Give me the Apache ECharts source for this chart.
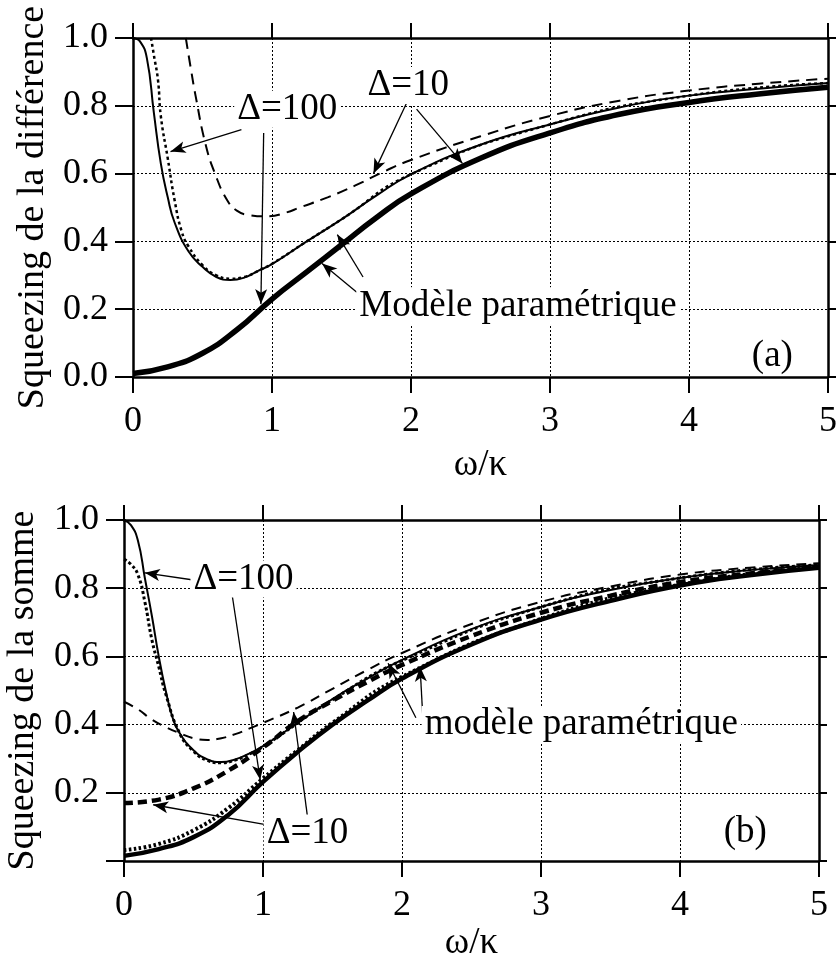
<!DOCTYPE html>
<html><head><meta charset="utf-8">
<script src="https://cdn.jsdelivr.net/npm/echarts@6/dist/echarts.min.js"></script>
<style>html,body{margin:0;padding:0;background:#fff}#c{width:836px;height:962px}</style>
</head><body><div id="c"></div>
<script>
// ---------- tick values ----------
const xTicks = [0, 1, 2, 3, 4, 5];
const yTicks = [0, 0.2, 0.4, 0.6, 0.8, 1.0];

// ---------- panel (a) : Squeezing de la différence ----------
const aParamX = [0, 0.25, 0.5, 0.75, 1.0, 1.25, 1.5, 1.75, 2.0, 2.5, 3.0, 3.5, 4.0, 4.5, 5.0];
const aParamY = [0.01, 0.03, 0.07, 0.14, 0.23, 0.31, 0.39, 0.47, 0.54, 0.645, 0.72, 0.775, 0.81, 0.835, 0.855];

const aD100X = [0, 0.05, 0.1, 0.15, 0.2, 0.25, 0.3, 0.4, 0.5, 0.6, 0.7, 0.8, 0.9, 1.0, 1.25, 1.5, 1.75, 2.0, 2.5, 3.0, 3.5, 4.0, 4.5, 5.0];
const aD100Y = [1.0, 0.99, 0.94, 0.78, 0.63, 0.53, 0.455, 0.37, 0.325, 0.295, 0.286, 0.293, 0.313, 0.333, 0.40, 0.465, 0.535, 0.598, 0.685, 0.745, 0.795, 0.83, 0.85, 0.867];

const aD100dotX = [0.13, 0.15, 0.18, 0.2, 0.25, 0.3, 0.35, 0.4, 0.5, 0.6, 0.7, 0.8, 0.9, 1.0, 1.25, 1.5, 2.0, 3.0, 4.0, 5.0];
const aD100dotY = [1.0, 0.95, 0.875, 0.77, 0.645, 0.52, 0.43, 0.385, 0.33, 0.30, 0.29, 0.295, 0.313, 0.334, 0.40, 0.465, 0.598, 0.745, 0.83, 0.867];

const aD10X = [0.38, 0.42, 0.45, 0.52, 0.59, 0.68, 0.75, 0.83, 0.97, 1.1, 1.2, 1.4, 1.6, 1.8, 2.0, 2.5, 3.0, 3.5, 4.0, 4.5, 5.0];
const aD10Y = [1.0, 0.9, 0.83, 0.69, 0.60, 0.52, 0.49, 0.478, 0.474, 0.485, 0.50, 0.53, 0.565, 0.605, 0.64, 0.71, 0.77, 0.815, 0.845, 0.865, 0.88];

// ---------- panel (b) : Squeezing de la somme ----------
const bParamX = [0, 0.25, 0.5, 0.75, 1.0, 1.25, 1.5, 1.75, 2.0, 2.5, 3.0, 3.5, 4.0, 4.5, 5.0];
const bParamY = [0.015, 0.035, 0.07, 0.135, 0.232, 0.32, 0.40, 0.47, 0.535, 0.635, 0.708, 0.763, 0.808, 0.838, 0.86];

const bParamDotX = [0, 0.25, 0.5, 0.75, 1.0, 1.25, 1.5, 2.0, 3.0, 4.0, 5.0];
const bParamDotY = [0.032, 0.05, 0.09, 0.155, 0.242, 0.325, 0.405, 0.54, 0.71, 0.81, 0.861];

const bParam10X = [0, 0.25, 0.5, 0.75, 1.0, 1.25, 1.5, 1.75, 2.0, 2.5, 3.0, 3.5, 4.0, 4.5, 5.0];
const bParam10Y = [0.17, 0.18, 0.213, 0.265, 0.333, 0.41, 0.47, 0.525, 0.575, 0.66, 0.728, 0.778, 0.818, 0.843, 0.862];

const bD100X = [0, 0.05, 0.1, 0.15, 0.2, 0.25, 0.3, 0.35, 0.4, 0.5, 0.6, 0.7, 0.8, 0.9, 1.0, 1.25, 1.5, 1.75, 2.0, 2.5, 3.0, 3.5, 4.0, 4.5, 5.0];
const bD100Y = [1.0, 0.985, 0.94, 0.83, 0.72, 0.60, 0.50, 0.42, 0.375, 0.325, 0.298, 0.29, 0.298, 0.315, 0.337, 0.405, 0.475, 0.535, 0.59, 0.68, 0.745, 0.795, 0.83, 0.853, 0.868];

const bD100dotX = [0, 0.05, 0.1, 0.15, 0.2, 0.25, 0.3, 0.4, 0.5, 0.6, 0.7, 0.8, 0.9, 1.0, 1.5, 2.0, 3.0, 4.0, 5.0];
const bD100dotY = [0.885, 0.87, 0.84, 0.76, 0.65, 0.57, 0.49, 0.375, 0.322, 0.295, 0.288, 0.296, 0.313, 0.335, 0.473, 0.588, 0.745, 0.83, 0.868];

const bD10X = [0, 0.1, 0.2, 0.3, 0.4, 0.5, 0.6, 0.7, 0.8, 0.9, 1.0, 1.25, 1.5, 1.75, 2.0, 2.5, 3.0, 3.5, 4.0, 4.5, 5.0];
const bD10Y = [0.467, 0.445, 0.415, 0.393, 0.375, 0.36, 0.355, 0.36, 0.372, 0.388, 0.405, 0.45, 0.505, 0.56, 0.61, 0.695, 0.76, 0.805, 0.84, 0.86, 0.873];

// ---------- annotations: [text, x, y] and arrows [x0, y0, x1(tip), y1(tip)] ----------
const aLabels = [['Δ=100', 1.11, 0.79], ['Δ=10', 1.98, 0.86], ['Modèle paramétrique', 2.77, 0.21], ['(a)', 4.6, 0.06]];
const aArrows = [[0.78, 0.73, 0.27, 0.665], [0.94, 0.72, 0.92, 0.215], [1.97, 0.81, 1.73, 0.60], [2.04, 0.79, 2.37, 0.63], [1.655, 0.295, 1.47, 0.42], [1.61, 0.25, 1.36, 0.335]];
const bLabels = [['Δ=100', 0.86, 0.827], ['Δ=10', 1.32, 0.082], ['modèle paramétrique', 3.29, 0.40], ['(b)', 4.47, 0.085]];
const bArrows = [[0.5, 0.824, 0.15, 0.845], [0.78, 0.775, 0.98, 0.238], [1.03, 0.106, 0.21, 0.165], [1.32, 0.13, 1.22, 0.437], [2.15, 0.42, 2.13, 0.57], [2.1, 0.42, 1.9, 0.58]];

const zip = (xs, ys) => xs.map((x, i) => [x, ys[i]]);
const FONT = '"Liberation Serif","Times New Roman",Times,serif';

function xAxesFor(g, gap) {
  return [{
    type: 'value', gridIndex: g, min: xTicks[0], max: xTicks[xTicks.length - 1], interval: 1, position: 'bottom',
    axisLine: { show: true, onZero: false, lineStyle: { color: '#000', width: 2.5 } },
    axisTick: { show: true, inside: false, length: 16, lineStyle: { color: '#000', width: 2 } },
    axisLabel: { fontFamily: FONT, fontSize: 36, color: '#000', margin: 27 },
    splitLine: { show: true, lineStyle: { type: [2, 2], color: '#000', width: 1 } },
    name: 'ω/κ', nameLocation: 'middle', nameGap: gap,
    nameTextStyle: { fontFamily: FONT, fontSize: 37, color: '#000' }
  }, {
    type: 'value', gridIndex: g, min: xTicks[0], max: xTicks[xTicks.length - 1], interval: 1, position: 'top',
    axisLine: { show: true, onZero: false, lineStyle: { color: '#000', width: 2.5 } },
    axisTick: { show: true, inside: false, length: 15, lineStyle: { color: '#000', width: 2 } },
    axisLabel: { show: false }, splitLine: { show: false }
  }];
}
function yAxesFor(g, name, hideZero, gap) {
  return [{
    type: 'value', gridIndex: g, min: yTicks[0], max: yTicks[yTicks.length - 1], interval: 0.2, position: 'left',
    axisLine: { show: true, onZero: false, lineStyle: { color: '#000', width: 2.5 } },
    axisTick: { show: true, inside: false, length: 18, lineStyle: { color: '#000', width: 2 } },
    axisLabel: { fontFamily: FONT, fontSize: 36, color: '#000', margin: 25,
      formatter: v => (hideZero && Math.abs(v) < 1e-9) ? '' : v.toFixed(1) },
    splitLine: { show: true, lineStyle: { type: [2, 2], color: '#000', width: 1 } },
    name: name, nameLocation: 'middle', nameGap: gap, nameRotate: 90,
    nameTextStyle: { fontFamily: FONT, fontSize: 38, color: '#000' }
  }, {
    type: 'value', gridIndex: g, min: yTicks[0], max: yTicks[yTicks.length - 1], interval: 0.2, position: 'right',
    axisLine: { show: true, onZero: false, lineStyle: { color: '#000', width: 2.5 } },
    axisTick: { show: true, inside: false, length: 8, lineStyle: { color: '#000', width: 2 } },
    axisLabel: { show: false }, splitLine: { show: false }
  }];
}

function line(g, data, width, type, z) {
  return {
    type: 'line', xAxisIndex: g * 2, yAxisIndex: g * 2, data: data, showSymbol: false, symbol: 'none',
    smooth: 0.5, z: z || 3, silent: true,
    lineStyle: { color: '#000', width: width, type: type || 'solid', cap: 'butt' }
  };
}
function annot(g, labels, arrows) {
  return {
    type: 'line', xAxisIndex: g * 2, yAxisIndex: g * 2, data: [], z: 20, silent: true,
    markLine: {
      silent: true, animation: false, symbol: ['none', 'arrow'], symbolSize: [9, 15],
      lineStyle: { color: '#000', width: 1.3, type: 'solid' }, label: { show: false },
      emphasis: { disabled: true },
      data: arrows.map(a => [{ coord: [a[0], a[1]] }, { coord: [a[2], a[3]] }])
    },
    markPoint: {
      silent: true, animation: false, symbol: 'rect', symbolSize: 1, itemStyle: { color: 'rgba(0,0,0,0)' },
      label: { show: true, position: 'inside', formatter: '{b}', fontFamily: FONT, fontSize: 37, color: '#000',
        backgroundColor: '#fff', padding: [0, 3] },
      data: labels.map(l => ({ name: l[0], coord: [l[1], l[2]] }))
    }
  };
}

const chart = echarts.init(document.getElementById('c'), null, { renderer: 'canvas' });
chart.setOption({
  animation: false,
  backgroundColor: '#fff',
  grid: [
    { left: 133, top: 38, width: 695, height: 339, outerBoundsMode: 'none' },
    { left: 124, top: 520, width: 695, height: 341, outerBoundsMode: 'none' }
  ],
  xAxis: [...xAxesFor(0, 70), ...xAxesFor(1, 64)],
  yAxis: [...yAxesFor(0, 'Squeezing de la différence', false, 78), ...yAxesFor(1, 'Squeezing de la somme', true, 82)],
  series: [
    line(0, zip(aD10X, aD10Y), 2, [11, 7]),
    line(0, zip(aD100dotX, aD100dotY), 2.5, [3, 3]),
    line(0, zip(aD100X, aD100Y), 2),
    line(0, zip(aParamX, aParamY), 5.5, 'solid', 5),
    annot(0, aLabels, aArrows),
    line(1, zip(bD10X, bD10Y), 2, [10, 7]),
    line(1, zip(bD100dotX, bD100dotY), 3, [3, 2.5]),
    line(1, zip(bD100X, bD100Y), 2),
    line(1, zip(bParam10X, bParam10Y), 4.5, [9, 5], 4),
    line(1, zip(bParamDotX, bParamDotY), 4, [2.5, 2.5], 4),
    line(1, zip(bParamX, bParamY), 4.5, 'solid', 5),
    annot(1, bLabels, bArrows)
  ]
});
</script></body></html>
